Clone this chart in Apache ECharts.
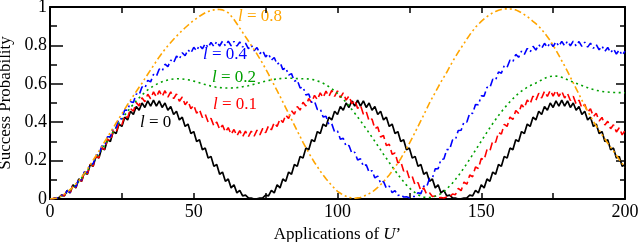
<!DOCTYPE html>
<html>
<head>
<meta charset="utf-8">
<script src="https://cdn.jsdelivr.net/npm/echarts@6/dist/echarts.min.js"></script>
<style>
html,body{margin:0;padding:0;background:#fff;}
#main{width:640px;height:242px;}
</style>
</head>
<body>
<div id="main"></div>
<script>
// success probability after each application of U' (index = number of applications, 0..200)
var probL0 = [
0,0.001,0.005,0.006,0.02,0.016,0.045,0.032,0.074,0.058,
0.104,0.092,0.14,0.129,0.18,0.17,0.222,0.213,0.265,0.257,
0.308,0.3,0.351,0.341,0.39,0.378,0.426,0.412,0.457,0.44,
0.482,0.462,0.5,0.477,0.511,0.484,0.515,0.484,0.511,0.477,
0.5,0.462,0.482,0.44,0.457,0.412,0.426,0.378,0.39,0.341,
0.351,0.3,0.308,0.257,0.265,0.213,0.222,0.17,0.18,0.129,
0.14,0.092,0.104,0.058,0.074,0.032,0.045,0.016,0.02,0.006,
0.005,
0,0.001,0.005,0.006,0.02,0.016,0.045,0.032,0.074,0.058,
0.104,0.092,0.14,0.129,0.18,0.17,0.222,0.213,0.265,0.257,
0.308,0.3,0.351,0.341,0.39,0.378,0.426,0.412,0.457,0.44,
0.482,0.462,0.5,0.477,0.511,0.484,0.515,0.484,0.511,0.477,
0.5,0.462,0.482,0.44,0.457,0.412,0.426,0.378,0.39,0.341,
0.351,0.3,0.308,0.257,0.265,0.213,0.222,0.17,0.18,0.129,
0.14,0.092,0.104,0.058,0.074,0.032,0.045,0.016,0.02,0.006,
0.005,
0,0.001,0.005,0.006,0.02,0.016,0.045,0.032,0.074,0.058,
0.104,0.092,0.14,0.129,0.18,0.17,0.222,0.213,0.265,0.257,
0.308,0.3,0.351,0.341,0.39,0.378,0.426,0.412,0.457,0.44,
0.482,0.462,0.5,0.477,0.511,0.484,0.515,0.484,0.511,0.477,
0.5,0.462,0.482,0.44,0.457,0.412,0.426,0.378,0.39,0.341,
0.351,0.3,0.308,0.257,0.265,0.213,0.222,0.17,0.18
];
var probL01 = [
0,0.002,0.005,0.007,0.019,0.018,0.044,0.033,0.074,0.06,
0.105,0.093,0.141,0.131,0.181,0.172,0.223,0.215,0.267,0.259,
0.311,0.303,0.355,0.346,0.397,0.386,0.435,0.423,0.471,0.457,
0.502,0.485,0.527,0.507,0.546,0.522,0.558,0.531,0.564,0.534,
0.564,0.531,0.558,0.523,0.547,0.509,0.531,0.491,0.511,0.47,
0.489,0.447,0.465,0.424,0.442,0.401,0.42,0.381,0.401,0.363,
0.385,0.349,0.372,0.337,0.362,0.329,0.356,0.325,0.353,0.324,
0.354,0.327,0.359,0.334,0.368,0.345,0.381,0.36,0.398,0.378,
0.417,0.398,0.438,0.419,0.46,0.441,0.482,0.463,0.504,0.484,
0.523,0.502,0.54,0.517,0.553,0.528,0.562,0.534,0.566,0.535,
0.563,0.528,0.553,0.515,0.537,0.496,0.515,0.472,0.488,0.442,
0.455,0.406,0.417,0.366,0.375,0.323,0.331,0.278,0.285,0.233,
0.24,0.188,0.196,0.146,0.155,0.107,0.118,0.072,0.086,0.043,
0.058,0.025,0.032,0.013,0.016,0.006,0.008,0.005,0.01,0.01,
0.026,0.022,0.055,0.043,0.088,0.077,0.125,0.116,0.167,0.159,
0.211,0.204,0.257,0.25,0.303,0.295,0.347,0.338,0.389,0.378,
0.427,0.414,0.461,0.446,0.491,0.474,0.516,0.496,0.536,0.514,
0.551,0.526,0.561,0.534,0.566,0.536,0.566,0.534,0.561,0.526,
0.55,0.513,0.535,0.495,0.515,0.474,0.493,0.452,0.47,0.429,
0.447,0.406,0.425,0.385,0.405,0.366,0.387,0.349,0.371,0.334,
0.357
];
var probL02 = [
0,0.002,0.004,0.01,0.015,0.025,0.034,0.047,0.059,0.075,
0.09,0.109,0.127,0.148,0.168,0.19,0.212,0.235,0.258,0.281,
0.304,0.327,0.35,0.373,0.395,0.416,0.437,0.457,0.476,0.494,
0.511,0.527,0.542,0.555,0.568,0.579,0.589,0.597,0.605,0.611,
0.616,0.62,0.623,0.625,0.626,0.626,0.625,0.623,0.621,0.618,
0.614,0.61,0.605,0.6,0.596,0.592,0.588,0.585,0.582,0.58,
0.579,0.578,0.578,0.578,0.579,0.58,0.582,0.585,0.587,0.59,
0.594,0.598,0.602,0.606,0.61,0.614,0.617,0.62,0.623,0.625,
0.627,0.628,0.629,0.629,0.629,0.628,0.627,0.627,0.626,0.626,
0.625,0.623,0.62,0.615,0.61,0.603,0.595,0.585,0.575,0.563,
0.55,0.535,0.52,0.503,0.485,0.466,0.447,0.427,0.407,0.386,
0.365,0.344,0.322,0.3,0.278,0.256,0.233,0.212,0.19,0.169,
0.148,0.128,0.108,0.09,0.072,0.058,0.043,0.033,0.022,0.016,
0.01,0.009,0.008,0.011,0.014,0.021,0.028,0.04,0.052,0.068,
0.083,0.102,0.12,0.141,0.162,0.185,0.207,0.231,0.254,0.278,
0.301,0.325,0.348,0.371,0.393,0.414,0.435,0.454,0.473,0.49,
0.507,0.522,0.537,0.55,0.562,0.572,0.582,0.59,0.598,0.604,
0.612,0.62,0.628,0.634,0.638,0.64,0.64,0.638,0.634,0.628,
0.621,0.614,0.609,0.603,0.597,0.591,0.585,0.58,0.574,0.57,
0.566,0.563,0.56,0.558,0.557,0.556,0.555,0.555,0.554,0.554,
0.553
];
var probL04 = [
0,0.001,0.005,0.007,0.019,0.018,0.044,0.035,0.072,0.064,
0.104,0.099,0.142,0.139,0.184,0.183,0.229,0.229,0.276,0.276,
0.324,0.324,0.372,0.372,0.419,0.418,0.464,0.462,0.507,0.503,
0.547,0.542,0.584,0.577,0.618,0.61,0.649,0.639,0.677,0.666,
0.702,0.689,0.724,0.71,0.744,0.729,0.762,0.746,0.777,0.76,
0.79,0.772,0.801,0.782,0.81,0.789,0.816,0.794,0.82,0.797,
0.822,0.798,0.822,0.798,0.821,0.796,0.818,0.791,0.812,0.783,
0.802,0.772,0.789,0.757,0.772,0.74,0.756,0.723,0.737,0.701,
0.712,0.674,0.684,0.645,0.653,0.613,0.62,0.578,0.584,0.542,
0.547,0.504,0.509,0.466,0.47,0.427,0.431,0.388,0.392,0.349,
0.354,0.311,0.316,0.274,0.279,0.238,0.244,0.203,0.21,0.17,
0.178,0.139,0.148,0.11,0.119,0.082,0.092,0.056,0.067,0.033,
0.044,0.018,0.024,0.01,0.012,0.007,0.013,0.013,0.033,0.028,
0.067,0.063,0.107,0.108,0.157,0.158,0.207,0.208,0.257,0.258,
0.307,0.308,0.357,0.358,0.402,0.401,0.447,0.446,0.492,0.491,
0.537,0.536,0.582,0.579,0.624,0.619,0.662,0.655,0.695,0.686,
0.724,0.715,0.753,0.738,0.77,0.753,0.784,0.766,0.795,0.776,
0.804,0.784,0.811,0.79,0.816,0.794,0.819,0.796,0.821,0.798,
0.822,0.798,0.822,0.797,0.82,0.795,0.817,0.791,0.812,0.785,
0.805,0.777,0.797,0.769,0.789,0.762,0.782,0.755,0.776,0.749,
0.77
];
var probL08 = [
0,0.002,0.004,0.01,0.016,0.026,0.036,0.049,0.062,0.079,
0.095,0.115,0.134,0.156,0.178,0.202,0.225,0.249,0.273,0.298,
0.322,0.347,0.371,0.396,0.42,0.444,0.468,0.492,0.515,0.538,
0.56,0.582,0.603,0.627,0.65,0.673,0.695,0.718,0.74,0.76,
0.78,0.798,0.815,0.832,0.848,0.863,0.878,0.892,0.905,0.918,
0.93,0.941,0.952,0.961,0.97,0.976,0.982,0.985,0.988,0.987,
0.985,0.978,0.97,0.953,0.935,0.913,0.89,0.868,0.845,0.823,
0.8,0.778,0.755,0.73,0.705,0.678,0.65,0.621,0.592,0.564,
0.535,0.505,0.475,0.445,0.415,0.385,0.355,0.325,0.295,0.268,
0.24,0.215,0.19,0.168,0.145,0.125,0.105,0.088,0.07,0.055,
0.04,0.03,0.02,0.014,0.008,0.006,0.004,0.006,0.008,0.014,
0.02,0.028,0.035,0.048,0.06,0.075,0.09,0.108,0.125,0.145,
0.165,0.188,0.21,0.236,0.262,0.29,0.318,0.348,0.378,0.408,
0.438,0.469,0.5,0.528,0.555,0.583,0.61,0.635,0.66,0.688,
0.715,0.74,0.765,0.788,0.81,0.833,0.855,0.875,0.895,0.91,
0.925,0.938,0.95,0.96,0.97,0.977,0.983,0.987,0.99,0.99,
0.99,0.988,0.985,0.978,0.97,0.96,0.95,0.938,0.925,0.913,
0.9,0.883,0.865,0.845,0.825,0.8,0.775,0.748,0.72,0.693,
0.665,0.635,0.605,0.575,0.545,0.515,0.485,0.458,0.43,0.405,
0.38,0.358,0.335,0.313,0.29,0.27,0.25,0.228,0.205,0.185,
0.165
];

var lValues = ['0', '0.1', '0.2', '0.4', '0.8'];
var colors = ['#000000', '#ff0000', '#00a000', '#0000ff', '#ffa500'];
var dashes = ['solid', [8, 4], [2, 3.5], [8, 3.5, 2, 3.5], [7, 3, 2, 3, 2, 3]];
var allProbs = [probL0, probL01, probL02, probL04, probL08];

var serif = '"Liberation Serif", "DejaVu Serif", serif';

function pairs(arr){
	return arr.map(function(v, i){ return [i, v]; });
}

var series = allProbs.map(function(arr, n){
	return {
		name: 'l = ' + lValues[n],
		type: 'line',
		data: pairs(arr),
		showSymbol: false,
		symbol: 'none',
		silent: true,
		lineStyle: {color: colors[n], width: n === 0 ? 1.7 : 1.6, type: dashes[n]}
	};
});

function xAx(pos, show){
	return {
		type: 'value', min: 0, max: 200, interval: 50, position: pos,
		axisLine: {show: true, onZero: false, lineStyle: {color: '#000', width: 2}},
		axisTick: {show: true, inside: true, length: 6, lineStyle: {color: '#000', width: 1.5}},
		minorTick: {show: true, splitNumber: 2, length: 6, lineStyle: {color: '#000', width: 1.5}},
		axisLabel: {show: show, color: '#000', fontFamily: serif, fontSize: 18, margin: 4},
		splitLine: {show: false},
		name: show ? 'Applications of {i|U}\u2019' : '',
		nameLocation: 'middle', nameGap: 23,
		nameTextStyle: {color: '#000', fontFamily: serif, fontSize: 17,
			rich: {i: {fontStyle: 'italic', fontFamily: serif, fontSize: 17, color: '#000'}}}
	};
}
function yAx(pos, show){
	return {
		type: 'value', min: 0, max: 1, interval: 0.2, position: pos,
		axisLine: {show: true, onZero: false, lineStyle: {color: '#000', width: 2}},
		axisTick: {show: true, inside: true, length: show ? 13 : 9, lineStyle: {color: '#000', width: 1.5}},
		minorTick: {show: true, splitNumber: 2, length: show ? 7 : 5, lineStyle: {color: '#000', width: 1.5}},
		axisLabel: {show: show, color: '#000', fontFamily: serif, fontSize: 18, margin: 3},
		splitLine: {show: false},
		name: show ? 'Success Probability' : '',
		nameLocation: 'middle', nameGap: 31, nameRotate: 90,
		nameTextStyle: {color: '#000', fontFamily: serif, fontSize: 17}
	};
}

function tag(txt, left, top, color){
	return {
		type: 'text', left: left, top: top, silent: true,
		style: {
			text: '{i|l} = ' + txt,
			fill: color, fontFamily: serif, fontSize: 17,
			rich: {i: {fontStyle: 'italic', fontFamily: serif, fontSize: 17, fill: color}}
		}
	};
}

var chart = echarts.init(document.getElementById('main'), null, {renderer: 'canvas'});
chart.setOption({
	animation: false,
	backgroundColor: '#fff',
	grid: {left: 50, right: 15, top: 7, bottom: 43, containLabel: false, outerBoundsMode: 'none'},
	xAxis: [xAx('bottom', true), xAx('top', false)],
	yAxis: [yAx('left', true), yAx('right', false)],
	series: series,
	graphic: [
		tag('0.8', 238, 8, colors[4]),
		tag('0.4', 203, 46, colors[3]),
		tag('0.2', 212, 69, colors[2]),
		tag('0.1', 213, 96, colors[1]),
		tag('0', 140, 114, colors[0])
	]
});
</script>
</body>
</html>
